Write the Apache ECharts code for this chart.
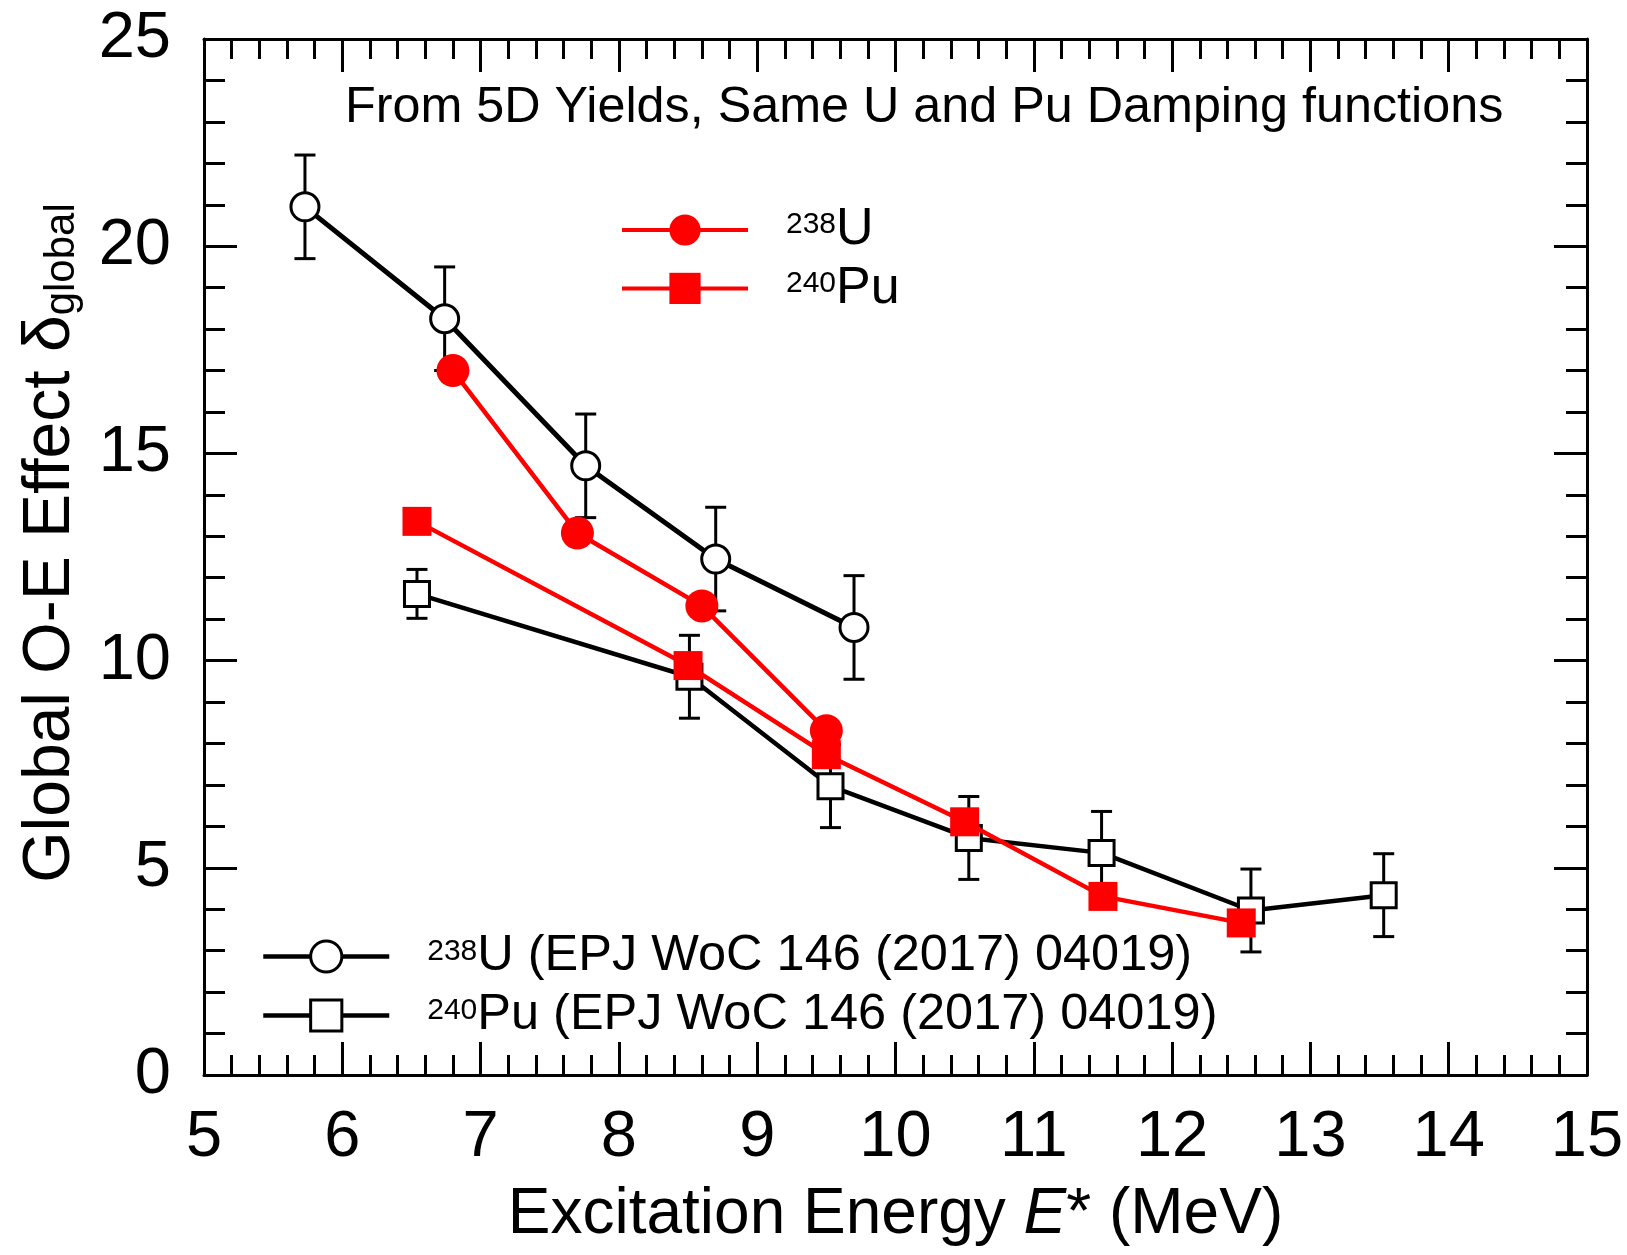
<!DOCTYPE html>
<html>
<head>
<meta charset="utf-8">
<script src="https://cdn.jsdelivr.net/npm/echarts@6/dist/echarts.min.js"></script>
<style>
  html, body { margin: 0; padding: 0; background: #fff; }
  #chart { width: 1627px; height: 1255px; }
</style>
</head>
<body>
<div id="chart"></div>
<script>
// Global odd-even effect vs excitation energy

// Reference measurements, 238U (EPJ WoC 146 (2017) 04019)
const uRefE = [5.73, 6.74, 7.76, 8.70, 9.70];
const uRefDelta = [20.95, 18.25, 14.70, 12.45, 10.80];
const uRefErr = [1.25, 1.25, 1.25, 1.25, 1.25];

// Reference measurements, 240Pu (EPJ WoC 146 (2017) 04019)
const puRefE = [6.54, 8.51, 9.53, 10.53, 11.49, 12.57, 13.53];
const puRefDelta = [11.61, 9.61, 6.97, 5.72, 5.36, 3.97, 4.34];
const puRefErr = [0.59, 1.0, 1.0, 1.0, 1.0, 1.0, 1.0];

// From 5D yields, 238U
const u5dE = [6.80, 7.70, 8.60, 9.50];
const u5dDelta = [17.00, 13.08, 11.32, 8.31];

// From 5D yields, 240Pu
const pu5dE = [6.54, 8.50, 9.50, 10.50, 11.50, 12.50];
const pu5dDelta = [13.36, 9.88, 7.73, 6.11, 4.31, 3.67];

// Axis ticks
const xTicks = { min: 5, max: 15, step: 1 };
const yTicks = { min: 0, max: 25, step: 5 };

const FONT = '"Liberation Sans", Arial, Helvetica, sans-serif';

const pairs = (xs, ys) => xs.map((x, i) => [x, ys[i]]);
const bars = (xs, ys, es) => xs.map((x, i) => [x, ys[i] - es[i], ys[i] + es[i]]);

const legendNames = {
  u238: '{sup|238}{m|U}',
  pu240: '{sup|240}{m|Pu}',
  u238ref: '{sup|238}{r|U (EPJ WoC 146 (2017) 04019)}',
  pu240ref: '{sup|240}{r|Pu (EPJ WoC 146 (2017) 04019)}'
};

const legendRich = {
  sup: { fontFamily: FONT, fontSize: 30, lineHeight: 12, verticalAlign: 'top', padding: [0, 0, 0, 33], color: '#000' },
  m: { fontFamily: FONT, fontSize: 52, lineHeight: 40, color: '#000' },
  r: { fontFamily: FONT, fontSize: 50.5, lineHeight: 40, color: '#000' }
};

function errorBarItem(params, api) {
  const x = api.value(0);
  const top = api.coord([x, api.value(2)]);
  const bot = api.coord([x, api.value(1)]);
  const hw = 10.5;
  const st = { stroke: '#000', lineWidth: 3 };
  return {
    type: 'group',
    children: [
      { type: 'line', shape: { x1: top[0], y1: top[1], x2: bot[0], y2: bot[1] }, style: st },
      { type: 'line', shape: { x1: top[0] - hw, y1: top[1], x2: top[0] + hw, y2: top[1] }, style: st },
      { type: 'line', shape: { x1: bot[0] - hw, y1: bot[1], x2: bot[0] + hw, y2: bot[1] }, style: st }
    ]
  };
}

function xAxisDef(pos) {
  return {
    type: 'value',
    position: pos,
    min: xTicks.min, max: xTicks.max, interval: xTicks.step,
    axisLine: { show: true, onZero: false, lineStyle: { color: '#000', width: 3 } },
    axisTick: { show: true, inside: true, length: 33, lineStyle: { color: '#000', width: 3 } },
    minorTick: { show: true, splitNumber: 5, length: 20, lineStyle: { color: '#000', width: 3 } },
    splitLine: { show: false },
    axisLabel: { show: pos === 'bottom', margin: 31, color: '#000', fontFamily: FONT, fontSize: 65 }
  };
}

function yAxisDef(pos) {
  return {
    type: 'value',
    position: pos,
    min: yTicks.min, max: yTicks.max, interval: yTicks.step,
    axisLine: { show: true, onZero: false, lineStyle: { color: '#000', width: 3 } },
    axisTick: { show: true, inside: true, length: 33, lineStyle: { color: '#000', width: 3 } },
    minorTick: { show: true, splitNumber: 5, length: 21, lineStyle: { color: '#000', width: 3 } },
    splitLine: { show: false },
    axisLabel: { show: pos === 'left', margin: 33, color: '#000', fontFamily: FONT, fontSize: 65 }
  };
}

const xBottom = xAxisDef('bottom');
xBottom.name = '{n|Excitation Energy }{i|E}{n|* (MeV)}';
xBottom.nameLocation = 'middle';
xBottom.nameGap = 108;
xBottom.nameTextStyle = {
  rich: {
    n: { fontFamily: FONT, fontSize: 64, lineHeight: 64, color: '#000' },
    i: { fontFamily: FONT, fontSize: 64, lineHeight: 64, fontStyle: 'italic', color: '#000' }
  }
};

const yLeft = yAxisDef('left');
yLeft.name = '{m|Global O-E Effect δ}{s|global}';
yLeft.nameLocation = 'middle';
yLeft.nameGap = 121;
yLeft.nameTextStyle = {
  rich: {
    m: { fontFamily: FONT, fontSize: 66, lineHeight: 64, padding: [0, 0, 0, 28], color: '#000' },
    s: { fontFamily: FONT, fontSize: 42, lineHeight: 30, verticalAlign: 'bottom', color: '#000' }
  }
};

const option = {
  animation: false,
  backgroundColor: '#fff',
  title: {
    text: 'From 5D Yields, Same U and Pu Damping functions',
    left: 345, top: 83, padding: 0,
    textStyle: { fontFamily: FONT, fontSize: 50.3, lineHeight: 50, fontWeight: 'normal', color: '#000' }
  },
  grid: { left: 204, top: 39, right: 40, bottom: 180, containLabel: false },
  xAxis: [xBottom, xAxisDef('top')],
  yAxis: [yLeft, yAxisDef('right')],
  legend: [
    {
      data: ['u238', 'pu240'],
      orient: 'vertical', left: 620, top: 204, padding: 0,
      itemWidth: 126, itemHeight: 39, itemGap: 6.4,
      selectedMode: false,
      lineStyle: { width: 4 },
      formatter: n => legendNames[n],
      textStyle: { rich: legendRich }
    },
    {
      data: ['u238ref', 'pu240ref'],
      orient: 'vertical', left: 261, top: 931, padding: 0,
      itemWidth: 126, itemHeight: 39, itemGap: 8,
      selectedMode: false,
      lineStyle: { width: 4.5 },
      itemStyle: { borderWidth: 3 },
      formatter: n => legendNames[n],
      textStyle: { rich: legendRich }
    }
  ],
  series: [
    {
      name: 'u238refErr', type: 'custom', z: 2,
      renderItem: errorBarItem,
      encode: { x: 0, y: [1, 2] },
      data: bars(uRefE, uRefDelta, uRefErr)
    },
    {
      name: 'pu240refErr', type: 'custom', z: 2,
      renderItem: errorBarItem,
      encode: { x: 0, y: [1, 2] },
      data: bars(puRefE, puRefDelta, puRefErr)
    },
    {
      name: 'u238ref', type: 'line', z: 3,
      data: pairs(uRefE, uRefDelta),
      symbol: 'circle', symbolSize: 28,
      itemStyle: { color: '#fff', borderColor: '#000', borderWidth: 3 },
      lineStyle: { color: '#000', width: 5 }
    },
    {
      name: 'pu240ref', type: 'line', z: 3,
      data: pairs(puRefE, puRefDelta),
      symbol: 'rect', symbolSize: 25,
      itemStyle: { color: '#fff', borderColor: '#000', borderWidth: 3 },
      lineStyle: { color: '#000', width: 4.5 }
    },
    {
      name: 'u238', type: 'line', z: 5,
      data: pairs(u5dE, u5dDelta),
      symbol: 'circle', symbolSize: 33,
      itemStyle: { color: '#ff0000' },
      lineStyle: { color: '#ff0000', width: 4.5 }
    },
    {
      name: 'pu240', type: 'line', z: 5,
      data: pairs(pu5dE, pu5dDelta),
      symbol: 'rect', symbolSize: 29,
      itemStyle: { color: '#ff0000' },
      lineStyle: { color: '#ff0000', width: 4.5 }
    }
  ]
};

const chart = echarts.init(document.getElementById('chart'), null, { renderer: 'canvas' });
chart.setOption(option);
</script>
</body>
</html>
